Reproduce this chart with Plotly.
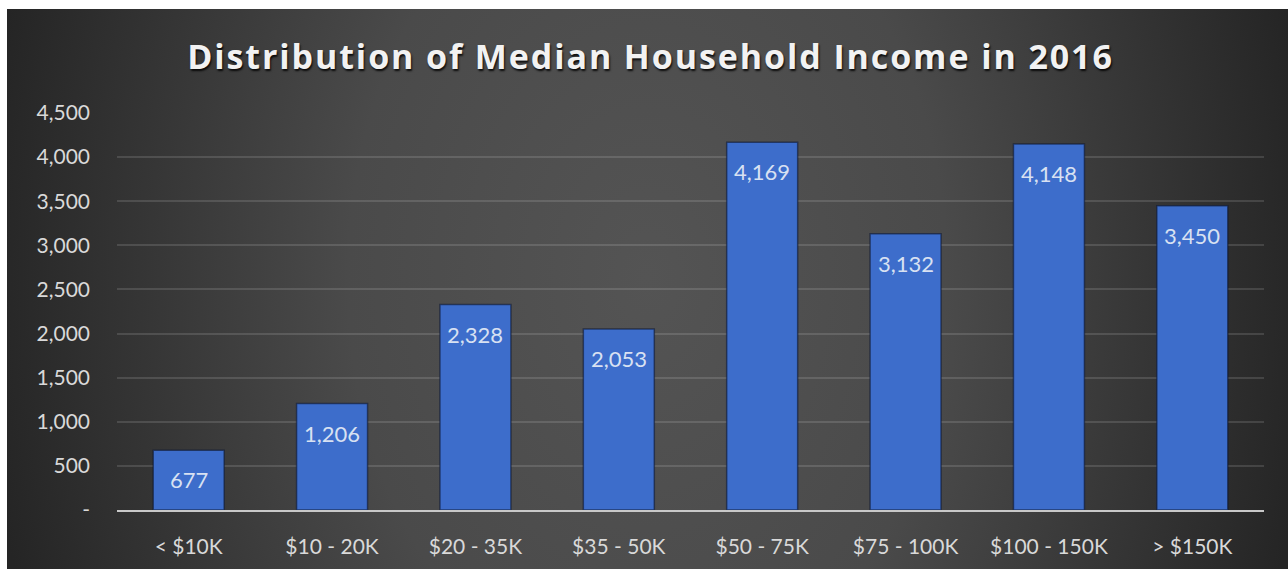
import urllib.parse
import plotly.graph_objects as go

# Household counts by median income bracket, 2016
brackets = ["< $10K", "$10 - 20K", "$20 - 35K", "$35 - 50K",
            "$50 - 75K", "$75 - 100K", "$100 - 150K", "> $150K"]
households = [677, 1206, 2328, 2053, 4169, 3132, 4148, 3450]

y_tick_vals = [0, 500, 1000, 1500, 2000, 2500, 3000, 3500, 4000, 4500]
y_tick_text = ["-", "500", "1,000", "1,500", "2,000", "2,500",
               "3,000", "3,500", "4,000", "4,500"]

W, H = 1288, 569
M_L, M_R, M_T, M_B = 117, 24, 113, 59

# dark backdrop, brighter toward the middle, as an inline SVG
svg = (
    "<svg xmlns='http://www.w3.org/2000/svg' width='1000' height='500' "
    "preserveAspectRatio='none' viewBox='0 0 1000 500'>"
    "<defs><radialGradient id='g' gradientUnits='userSpaceOnUse' "
    "cx='500' cy='240' r='520' "
    "gradientTransform='translate(500 240) scale(1 1.6) translate(-500 -240)'>"
    "<stop offset='0' stop-color='#545454'/>"
    "<stop offset='0.45' stop-color='#4a4a4a'/>"
    "<stop offset='1' stop-color='#252525'/>"
    "</radialGradient></defs>"
    "<rect width='1000' height='500' fill='url(#g)'/></svg>"
)
bg_src = "data:image/svg+xml;charset=utf-8," + urllib.parse.quote(svg)

pw, ph = W - M_L - M_R, H - M_T - M_B
bg_x0 = (7 - M_L) / pw
bg_x1 = (W - M_L) / pw
bg_y1 = (H - M_B - 9) / ph
bg_y0 = (H - M_B - 569) / ph

fig = go.Figure()
fig.add_trace(go.Bar(
    x=brackets,
    y=households,
    marker=dict(color="#3d6dcb",
                line=dict(color="rgba(14,24,50,0.6)", width=1.5)),
    hoverinfo="skip",
))

annotations = [
    dict(x=b, y=v, xref="x", yref="y", text=f"{v:,}", showarrow=False,
         yanchor="top", yshift=-14,
         font=dict(family="Lato", size=22, color="#d8e1f2"))
    for b, v in zip(brackets, households)
]

fig.update_layout(
    width=W, height=H,
    margin=dict(l=M_L, r=M_R, t=M_T, b=M_B),
    paper_bgcolor="white",
    plot_bgcolor="rgba(0,0,0,0)",
    bargap=0.505,
    showlegend=False,
    title=dict(
        text="<b>Distribution of Median Household Income in 2016</b>",
        x=0.505, xref="container", xanchor="center",
        y=1 - 57 / H, yref="container", yanchor="middle",
        font=dict(family="Open Sans", size=34, color="#f2f2f2",
                  shadow="1px 2px 2px rgba(0,0,0,0.85)"),
    ),
    images=[dict(source=bg_src, xref="paper", yref="paper",
                 x=bg_x0, y=bg_y1, sizex=bg_x1 - bg_x0, sizey=bg_y1 - bg_y0,
                 xanchor="left", yanchor="top", sizing="stretch",
                 layer="below")],
    annotations=annotations,
    xaxis=dict(
        showgrid=False, showline=True, linecolor="#c8c8c8", linewidth=2,
        ticks="", ticklabelstandoff=17,
        tickfont=dict(family="Lato", size=21, color="#d9d9d9"),
    ),
    yaxis=dict(
        range=[0, 4500], tickvals=y_tick_vals, ticktext=y_tick_text,
        showgrid=True, gridcolor="rgba(255,255,255,0.13)", gridwidth=1.5,
        zeroline=False, showline=False, ticks="", ticklabelstandoff=26,
        tickfont=dict(family="Lato", size=21, color="#d9d9d9"),
    ),
)

# widen the title's letter spacing
spacing_js = (
    "document.querySelectorAll('.gtitle').forEach(function(t){"
    "t.style.letterSpacing='1.9px';});"
)

fig.write_html("out.html", post_script=spacing_js)
